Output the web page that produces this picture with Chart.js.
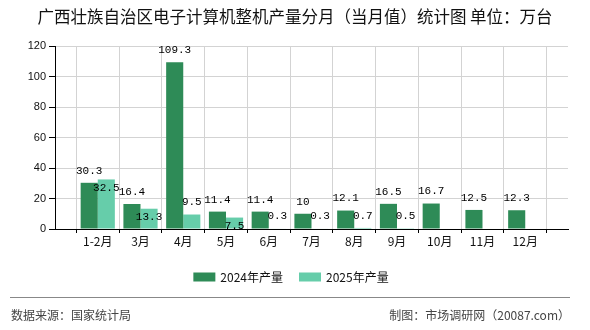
<!DOCTYPE html>
<html>
<head>
<meta charset="utf-8">
<script src="https://cdn.jsdelivr.net/npm/chart.js@4/dist/chart.umd.min.js"></script>
<style>
  html, body { margin: 0; padding: 0; background: #ffffff; }
  #wrap { width: 590px; height: 330px; position: relative; }
</style>
</head>
<body>
<div id="wrap"><canvas id="c" width="590" height="330"></canvas></div>
<script>
// Monthly output of complete computers in Guangxi (unit: 10k sets)
const months = ['1-2月', '3月', '4月', '5月', '6月', '7月', '8月', '9月', '10月', '11月', '12月'];
const output2024 = [30.3, 16.4, 109.3, 11.4, 11.4, 10, 12.1, 16.5, 16.7, 12.5, 12.3];
const output2025 = [32.5, 13.3, 9.5, 7.5, 0.3, 0.3, 0.7, 0.5, null, null, null];
const seriesNames = ['2024年产量', '2025年产量'];
const seriesColors = ['#2e8b57', '#66cdaa'];
const titleText = '广西壮族自治区电子计算机整机产量分月（当月值）统计图 单位：万台';
const sourceText = '数据来源：国家统计局';
const creditText = '制图：市场调研网（20087.com）';

// Empty slots on both ends keep the months centred between the axis edges
const labels = [''].concat(months, ['']);
const pad = (arr) => [null].concat(arr, [null]);

const CJK = '"Noto Sans CJK SC", "Noto Sans", sans-serif';

const decorations = {
  id: 'decorations',
  afterDraw(chart) {
    const ctx = chart.ctx;
    ctx.save();
    // title
    ctx.fillStyle = '#111';
    ctx.font = '16.5px ' + CJK;
    ctx.textAlign = 'center';
    ctx.textBaseline = 'middle';
    ctx.fillText(titleText, 295, 17);

    // legend
    ctx.font = '12px ' + CJK;
    ctx.textAlign = 'left';
    const sw = 22, sh = 9, gapText = 5, gapItem = 16;
    const widths = seriesNames.map(n => sw + gapText + ctx.measureText(n).width);
    const total = widths.reduce((a, b) => a + b, 0) + gapItem * (widths.length - 1);
    let x = 291 - total / 2;
    const ly = 277;
    seriesNames.forEach((n, i) => {
      ctx.fillStyle = seriesColors[i];
      ctx.fillRect(x, ly - sh / 2, sw, sh);
      ctx.fillStyle = '#111';
      ctx.fillText(n, x + sw + gapText, ly + 0.5);
      x += widths[i] + gapItem;
    });

    // footer rule and notes
    ctx.strokeStyle = '#888';
    ctx.lineWidth = 1;
    ctx.beginPath();
    ctx.moveTo(10, 297.5);
    ctx.lineTo(570, 297.5);
    ctx.stroke();
    ctx.fillStyle = '#444';
    ctx.font = '12px ' + CJK;
    ctx.textAlign = 'left';
    ctx.fillText(sourceText, 11, 315);
    ctx.textAlign = 'right';
    ctx.fillText(creditText, 570, 315);
    ctx.restore();
  }
};

// Value labels above each bar; the second series drops inside its bar
// when its label would collide with the neighbouring one
const valueLabels = {
  id: 'valueLabels',
  afterDatasetsDraw(chart) {
    const ctx = chart.ctx;
    ctx.save();
    ctx.font = '11px "Liberation Mono", "DejaVu Sans Mono", monospace';
    ctx.fillStyle = '#000';
    ctx.textAlign = 'center';
    ctx.textBaseline = 'middle';
    const m0 = chart.getDatasetMeta(0), m1 = chart.getDatasetMeta(1);
    const d0 = chart.data.datasets[0].data, d1 = chart.data.datasets[1].data;
    const h = 10;
    for (let i = 0; i < labels.length; i++) {
      let box0 = null;
      if (d0[i] != null) {
        const el = m0.data[i];
        const t = String(d0[i]);
        const w = ctx.measureText(t).width;
        box0 = { cx: el.x, cy: el.y - 12, w };
        ctx.fillText(t, box0.cx, box0.cy);
      }
      if (d1[i] != null) {
        const el = m1.data[i];
        const t = String(d1[i]);
        const w = ctx.measureText(t).width;
        let cy = el.y - 12;
        if (box0) {
          const hOverlap = Math.abs(el.x - box0.cx) < (w + box0.w) / 2;
          const vOverlap = Math.abs(cy - box0.cy) < h;
          if (hOverlap && vOverlap) cy = el.y + 8.5;
        }
        ctx.fillText(t, el.x, cy);
      }
    }
    ctx.restore();
  }
};

new Chart(document.getElementById('c'), {
  type: 'bar',
  data: {
    labels,
    datasets: [
      { label: seriesNames[0], data: pad(output2024), backgroundColor: seriesColors[0] },
      { label: seriesNames[1], data: pad(output2025), backgroundColor: seriesColors[1] }
    ]
  },
  options: {
    responsive: false,
    animation: false,
    devicePixelRatio: 1,
    layout: { padding: { top: 46, right: 22, bottom: 0, left: 0 } },
    datasets: { bar: { barPercentage: 1, categoryPercentage: 0.8 } },
    plugins: { legend: { display: false }, title: { display: false }, tooltip: { enabled: false } },
    scales: {
      x: {
        offset: false,
        afterFit(s) { s.height = 101; },
        grid: { color: '#d3d3d3', lineWidth: 1, tickColor: '#000', tickLength: 4, drawTicks: true },
        border: { color: '#000', width: 1 },
        ticks: {
          color: '#111',
          font: { size: 12, family: CJK },
          padding: 1,
          maxRotation: 0,
          autoSkip: false
        }
      },
      y: {
        min: 0,
        max: 120,
        afterFit(s) { s.width = 55; },
        grid: { color: '#d3d3d3', lineWidth: 1, tickColor: '#000', tickLength: 6 },
        border: { color: '#000', width: 1 },
        ticks: {
          stepSize: 20,
          color: '#111',
          padding: 3,
          font: { size: 11, family: '"Liberation Sans", Arial, sans-serif' }
        }
      }
    }
  },
  plugins: [valueLabels, decorations]
});
</script>
</body>
</html>
